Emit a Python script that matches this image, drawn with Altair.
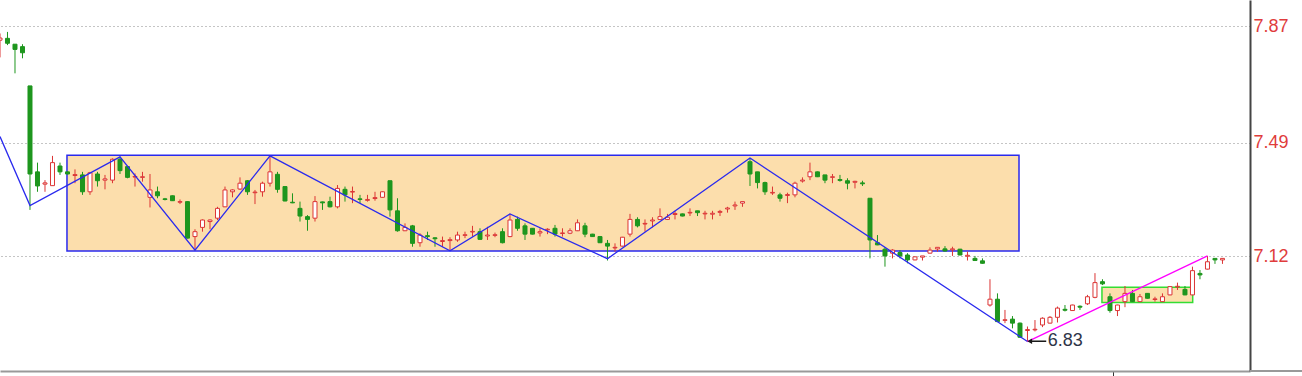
import altair as alt
import pandas as pd

# ---- candle data (index 0..163), prices ----
opens = [7.824, 7.830, 7.811, 7.803, 7.675, 7.395, 7.355, 7.350, 7.414, 7.395,
         7.383, 7.385, 7.330, 7.388, 7.368, 7.368, 7.436, 7.412, 7.378, 7.377,
         7.312, 7.330, 7.307, 7.317, 7.296, 7.298, 7.184, 7.214, 7.233, 7.244,
         7.281, 7.330, 7.339, 7.366, 7.327, 7.330, 7.358, 7.387, 7.347, 7.296,
         7.276, 7.249, 7.244, 7.297, 7.298, 7.281, 7.338, 7.329, 7.307, 7.302,
         7.308, 7.312, 7.366, 7.268, 7.203, 7.219, 7.164, 7.187, 7.180, 7.168,
         7.171, 7.173, 7.188, 7.199, 7.200, 7.186, 7.188, 7.200, 7.184, 7.240,
         7.219, 7.211, 7.196, 7.206, 7.211, 7.194, 7.195, 7.203, 7.219, 7.192,
         7.184, 7.162, 7.147, 7.153, 7.192, 7.240, 7.225, 7.235, 7.240, 7.240,
         7.256, 7.258, 7.261, 7.268, 7.258, 7.257, 7.263, 7.274, 7.284, 7.293,
         7.428, 7.395, 7.360, 7.326, 7.320, 7.318, 7.320, 7.365, 7.379, 7.395,
         7.385, 7.377, 7.370, 7.366, 7.361, 7.359, 7.309, 7.164, 7.143, 7.130,
         7.132, 7.124, 7.108, 7.117, 7.130, 7.144, 7.144, 7.141, 7.143, 7.120,
         7.113, 7.105, 6.961, 6.980, 6.911, 6.915, 6.902, 6.878, 6.880, 6.896,
         6.902, 6.921, 6.947, 6.943, 6.957, 6.965, 6.986, 7.037, 6.988, 6.943,
         6.972, 6.999, 6.972, 6.999, 6.979, 6.972, 6.994, 7.020, 7.012, 6.994,
         7.064, 7.078, 7.113, 7.108]
highs = [7.846, 7.851, 7.811, 7.811, 7.675, 7.425, 7.368, 7.447, 7.425, 7.396,
         7.403, 7.395, 7.395, 7.395, 7.385, 7.439, 7.444, 7.414, 7.390, 7.395,
         7.388, 7.347, 7.310, 7.318, 7.305, 7.299, 7.208, 7.240, 7.240, 7.281,
         7.347, 7.338, 7.377, 7.368, 7.336, 7.363, 7.447, 7.395, 7.348, 7.325,
         7.298, 7.254, 7.316, 7.298, 7.314, 7.352, 7.347, 7.347, 7.320, 7.320,
         7.330, 7.331, 7.366, 7.309, 7.227, 7.222, 7.195, 7.200, 7.182, 7.184,
         7.182, 7.200, 7.200, 7.219, 7.211, 7.216, 7.197, 7.211, 7.258, 7.249,
         7.227, 7.212, 7.211, 7.211, 7.222, 7.211, 7.211, 7.240, 7.229, 7.193,
         7.186, 7.173, 7.162, 7.183, 7.258, 7.247, 7.240, 7.247, 7.276, 7.258,
         7.268, 7.259, 7.276, 7.268, 7.268, 7.268, 7.271, 7.281, 7.298, 7.298,
         7.440, 7.395, 7.363, 7.347, 7.327, 7.327, 7.363, 7.377, 7.425, 7.396,
         7.385, 7.388, 7.385, 7.374, 7.366, 7.366, 7.309, 7.189, 7.149, 7.143,
         7.140, 7.130, 7.119, 7.121, 7.149, 7.149, 7.153, 7.151, 7.144, 7.135,
         7.121, 7.113, 7.045, 6.999, 6.945, 6.925, 6.904, 6.891, 6.912, 6.921,
         6.925, 6.956, 6.961, 6.962, 6.960, 6.994, 7.065, 7.045, 6.999, 6.962,
         7.023, 7.010, 6.997, 7.000, 6.988, 6.999, 7.023, 7.034, 7.023, 7.086,
         7.075, 7.121, 7.113, 7.113]
lows = [7.768, 7.808, 7.716, 7.765, 7.271, 7.330, 7.330, 7.349, 7.385, 7.387,
        7.358, 7.320, 7.320, 7.347, 7.338, 7.358, 7.388, 7.374, 7.347, 7.363,
        7.279, 7.309, 7.302, 7.300, 7.290, 7.178, 7.140, 7.200, 7.208, 7.238,
        7.280, 7.312, 7.336, 7.320, 7.290, 7.314, 7.347, 7.327, 7.299, 7.293,
        7.233, 7.203, 7.233, 7.271, 7.279, 7.276, 7.298, 7.293, 7.293, 7.298,
        7.301, 7.311, 7.249, 7.200, 7.202, 7.151, 7.151, 7.173, 7.151, 7.151,
        7.138, 7.167, 7.179, 7.184, 7.173, 7.173, 7.182, 7.162, 7.182, 7.203,
        7.173, 7.191, 7.184, 7.192, 7.184, 7.184, 7.192, 7.202, 7.182, 7.183,
        7.163, 7.106, 7.135, 7.152, 7.184, 7.214, 7.200, 7.214, 7.238, 7.238,
        7.240, 7.250, 7.251, 7.251, 7.240, 7.240, 7.251, 7.262, 7.271, 7.281,
        7.349, 7.341, 7.320, 7.320, 7.298, 7.293, 7.312, 7.360, 7.368, 7.378,
        7.358, 7.358, 7.363, 7.338, 7.341, 7.349, 7.113, 7.156, 7.086, 7.113,
        7.113, 7.097, 7.107, 7.106, 7.129, 7.135, 7.135, 7.121, 7.123, 7.106,
        7.105, 7.096, 6.956, 6.906, 6.902, 6.885, 6.855, 6.842, 6.875, 6.889,
        6.901, 6.904, 6.940, 6.942, 6.945, 6.961, 6.983, 7.026, 6.936, 6.925,
        6.954, 6.971, 6.971, 6.982, 6.972, 6.971, 6.993, 7.010, 6.993, 6.993,
        7.045, 7.077, 7.095, 7.095]
closes = [7.831, 7.814, 7.794, 7.783, 7.388, 7.349, 7.359, 7.425, 7.395, 7.388,
          7.386, 7.330, 7.392, 7.366, 7.372, 7.436, 7.399, 7.377, 7.380, 7.379,
          7.336, 7.317, 7.305, 7.301, 7.298, 7.179, 7.200, 7.238, 7.238, 7.276,
          7.336, 7.336, 7.358, 7.330, 7.329, 7.358, 7.395, 7.338, 7.300, 7.294,
          7.251, 7.240, 7.298, 7.294, 7.281, 7.341, 7.320, 7.331, 7.305, 7.305,
          7.311, 7.330, 7.271, 7.203, 7.214, 7.162, 7.189, 7.184, 7.177, 7.171,
          7.174, 7.189, 7.190, 7.201, 7.175, 7.189, 7.190, 7.164, 7.238, 7.211,
          7.192, 7.192, 7.200, 7.208, 7.192, 7.196, 7.203, 7.229, 7.192, 7.184,
          7.164, 7.153, 7.149, 7.182, 7.240, 7.219, 7.227, 7.238, 7.249, 7.247,
          7.259, 7.251, 7.263, 7.262, 7.260, 7.260, 7.266, 7.277, 7.287, 7.298,
          7.388, 7.360, 7.330, 7.328, 7.309, 7.321, 7.358, 7.368, 7.395, 7.379,
          7.368, 7.379, 7.367, 7.358, 7.364, 7.356, 7.173, 7.157, 7.121, 7.140,
          7.121, 7.108, 7.118, 7.121, 7.140, 7.149, 7.137, 7.144, 7.124, 7.123,
          7.106, 7.097, 6.980, 6.907, 6.913, 6.902, 6.856, 6.881, 6.882, 6.918,
          6.921, 6.951, 6.944, 6.961, 6.954, 6.988, 7.034, 7.030, 6.943, 6.961,
          6.999, 6.972, 6.988, 6.983, 6.981, 6.988, 7.021, 7.022, 6.994, 7.073,
          7.059, 7.102, 7.108, 7.113]
idx = list(range(len(opens)))

# zigzag pivots (candle index, price) and trend line
zig_i = [0, 4, 16, 26, 36, 60, 68, 81, 100, 137]
zig_v = [7.510, 7.285, 7.444, 7.140, 7.447, 7.138, 7.258, 7.112, 7.440, 6.842]
trend_i = [137, 161]
trend_v = [6.842, 7.121]

# boxes (index range, price range)
box_big = {"x1": 8.93, "x2": 135.87, "y1": 7.137, "y2": 7.449}
box_small = {"x1": 146.93, "x2": 159.03, "y1": 6.969, "y2": 7.019}

y_ticks = [7.12, 7.49, 7.87]
low_label = "6.83"

RED = "#DC3535"
GREEN = "#1E961E"
BLUE = "#2A2AEE"
PEACH = "#FCDEAC"
FONT = "Liberation Sans"

df = pd.DataFrame({"i": idx, "open": opens, "high": highs, "low": lows, "close": closes})
df["dir"] = ["up" if c >= o else "down" for o, c in zip(opens, closes)]

xs = alt.Scale(domain=[0, 166.67], nice=False, zero=False, padding=0)
ys = alt.Scale(domain=[6.746, 7.955], nice=False, zero=False, padding=0)
xax = alt.Axis(values=[148.4], labels=False, ticks=True, tickSize=5, tickColor="#333333",
               grid=False, domainColor="#999999", domainWidth=2, title=None)
yax = alt.Axis(orient="right", values=y_ticks, format=".2f", labelColor="#E03C3C",
               labelFont=FONT, labelFontSize=18, labelPadding=3, ticks=False,
               grid=True, gridDash=[1, 3], gridColor="#8a8a8a", gridWidth=1,
               domainColor="#444444", domainWidth=2, title=None, labelBaseline="middle")

X = lambda f: alt.X(f, type="quantitative", scale=xs, axis=xax)
Y = lambda f: alt.Y(f, type="quantitative", scale=ys, axis=yax)

boxes_big = alt.Chart(pd.DataFrame([box_big])).mark_rect(
    fill=PEACH, stroke=BLUE, strokeWidth=1.5
).encode(x=X("x1"), x2="x2", y=Y("y1"), y2="y2")

boxes_small = alt.Chart(pd.DataFrame([box_small])).mark_rect(
    fill=PEACH, stroke="#33DD33", strokeWidth=1.5
).encode(x=X("x1"), x2="x2", y=Y("y1"), y2="y2")

wicks = alt.Chart(df).mark_rule(strokeWidth=1).encode(
    x=X("i"), y=Y("low"), y2="high",
    color=alt.Color("dir:N", scale=alt.Scale(domain=["up", "down"], range=[RED, GREEN]), legend=None),
)

bodies = alt.Chart(df).mark_bar(size=4, strokeWidth=1).encode(
    x=X("i"), y=Y("open"), y2="close",
    fill=alt.Fill("dir:N", scale=alt.Scale(domain=["up", "down"], range=["#ffffff", GREEN]), legend=None),
    stroke=alt.Stroke("dir:N", scale=alt.Scale(domain=["up", "down"], range=[RED, GREEN]), legend=None),
)

zig = alt.Chart(pd.DataFrame({"i": zig_i, "v": zig_v})).mark_line(
    color=BLUE, strokeWidth=1.3
).encode(x=X("i"), y=Y("v"))

trend = alt.Chart(pd.DataFrame({"i": trend_i, "v": trend_v})).mark_line(
    color="#FF00FF", strokeWidth=1.3
).encode(x=X("i"), y=Y("v"))

arrow_df = pd.DataFrame({"a": [137.3], "b": [139.5], "v": [6.843]})
arrow_shaft = alt.Chart(arrow_df).mark_rule(color="#1a1a1a", strokeWidth=1.5).encode(
    x=X("a"), x2="b", y=Y("v"))
arrow_head = alt.Chart(arrow_df).mark_point(
    shape="triangle-left", filled=True, size=30, color="#1a1a1a", opacity=1
).encode(x=X("a"), y=Y("v"))

label = alt.Chart(pd.DataFrame({"i": [139.7], "v": [6.843], "t": [low_label]})).mark_text(
    align="left", baseline="middle", fontSize=18, font=FONT, color="#2E3448"
).encode(x=X("i"), y=Y("v"), text="t:N")

bottom_line = alt.Chart(pd.DataFrame({"a": [0]})).mark_rule(color="#999999", strokeWidth=2).encode(
    x=alt.value(1250), x2=alt.value(1302), y=alt.value(371))

chart = alt.layer(
    boxes_big, boxes_small, wicks, bodies, zig, trend, arrow_shaft, arrow_head, label, bottom_line
).properties(
    width=1250, height=371, autosize="none",
    padding={"left": 0, "top": 0, "right": 52, "bottom": 5},
    background="white",
).configure_view(stroke=None)

chart.save("out.html", embed_options={"renderer": "svg", "actions": False})
